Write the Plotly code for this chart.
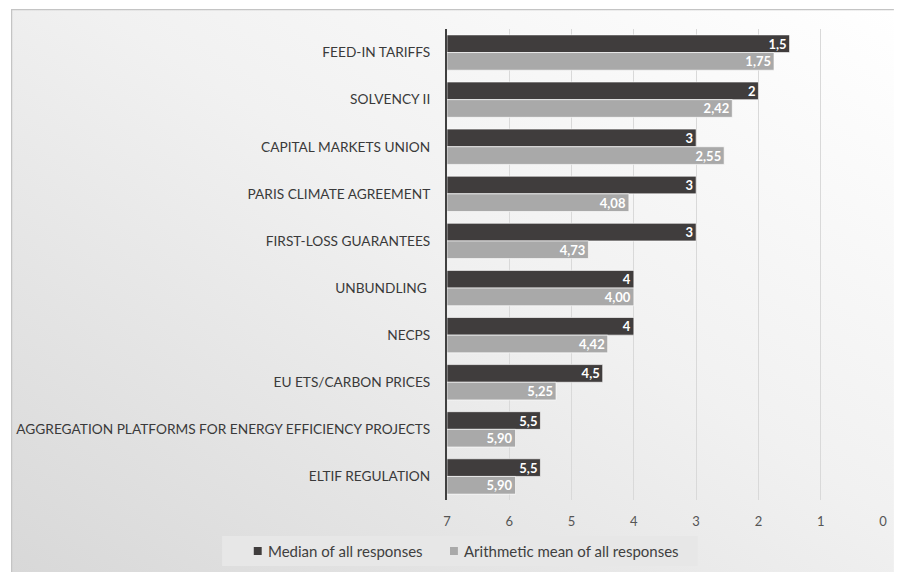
import base64
import plotly.graph_objects as go

# Survey results: ranking of policy instruments (lower = more important)
categories = [
    "FEED-IN TARIFFS",
    "SOLVENCY II",
    "CAPITAL MARKETS UNION",
    "PARIS CLIMATE AGREEMENT",
    "FIRST-LOSS GUARANTEES",
    "UNBUNDLING ",
    "NECPS",
    "EU ETS/CARBON PRICES",
    "AGGREGATION PLATFORMS FOR ENERGY EFFICIENCY PROJECTS",
    "ELTIF REGULATION",
]
median_vals = [1.5, 2, 3, 3, 3, 4, 4, 4.5, 5.5, 5.5]
mean_vals = [1.75, 2.42, 2.55, 4.08, 4.73, 4.00, 4.42, 5.25, 5.90, 5.90]
series_names = ["Median of all responses", "Arithmetic mean of all responses"]
x_ticks = [7, 6, 5, 4, 3, 2, 1, 0]

AXIS_START = 7  # bars grow from the left edge of the reversed scale

W, H = 898, 572
ML, MR, MT, MB = 447, 11, 29, 72
PW, PH = W - ML - MR, H - MT - MB

FONT = "Lato"
DARK = "#403d3d"
LIGHT = "#a9a9a9"


def px_x(px):
    """canvas pixel column -> paper x"""
    return (px - ML) / PW


def px_y(py):
    """canvas pixel row -> paper y"""
    return (H - MB - py) / PH


def fmt_median(v):
    return f"{v:g}".replace(".", ",")


def fmt_mean(v):
    return f"{v:.2f}".replace(".", ",")


fig = go.Figure()
series = [
    (series_names[0], median_vals, DARK, fmt_median),
    (series_names[1], mean_vals, LIGHT, fmt_mean),
]
for name, vals, color, fmt in series:
    fig.add_trace(go.Bar(
        name=name,
        y=categories,
        x=[v - AXIS_START for v in vals],
        base=AXIS_START,
        orientation="h",
        marker=dict(color=color, line=dict(color="rgba(255,255,255,0.8)", width=0.8)),
        text=[fmt(v) for v in vals],
        textposition="inside",
        insidetextanchor="end",
        textangle=0,
        constraintext="none",
        textfont=dict(family=FONT, size=13, color="white", weight="bold"),
        hoverinfo="skip",
        showlegend=False,
    ))

# soft grey gradient backdrop with a thin frame on the top and left
svg = (
    '<svg xmlns="http://www.w3.org/2000/svg" width="891" height="563" '
    'viewBox="0 0 891 563" preserveAspectRatio="none">'
    '<defs><linearGradient id="g" x1="1" y1="0" x2="0" y2="1">'
    '<stop offset="0" stop-color="#ffffff"/>'
    '<stop offset="0.45" stop-color="#f1f1f1"/>'
    '<stop offset="1" stop-color="#d8d8d8"/>'
    '</linearGradient></defs>'
    '<rect x="0" y="0" width="891" height="563" fill="url(#g)"/>'
    '<line x1="0" y1="0.5" x2="891" y2="0.5" stroke="#c4c4c4" stroke-width="1.5"/>'
    '<line x1="0.5" y1="0" x2="0.5" y2="563" stroke="#c4c4c4" stroke-width="1.5"/>'
    '</svg>'
)
src = "data:image/svg+xml;base64," + base64.b64encode(svg.encode()).decode()
bx0, by0 = 7, 9
fig.add_layout_image(
    source=src,
    xref="paper", yref="paper",
    x=px_x(bx0), y=px_y(by0),
    sizex=(W - bx0) / PW, sizey=(H - by0) / PH,
    xanchor="left", yanchor="top",
    sizing="stretch", layer="below",
)

# legend: light panel, small square swatches and labels
fig.add_shape(
    type="rect", xref="paper", yref="paper",
    x0=px_x(220), x1=px_x(700), y0=px_y(566), y1=px_y(536),
    fillcolor="#e7e7e7", line=dict(width=0), layer="below",
)
legend_y = 551
for (name, _, color, _), sx in zip(series, [252, 450]):
    fig.add_shape(
        type="rect", xref="paper", yref="paper",
        x0=px_x(sx), x1=px_x(sx + 8), y0=px_y(legend_y + 4), y1=px_y(legend_y - 4),
        fillcolor=color, line=dict(width=0),
    )
    fig.add_annotation(
        xref="paper", yref="paper",
        x=px_x(sx + 12), y=px_y(legend_y),
        xanchor="left", yanchor="middle",
        text=name, showarrow=False,
        font=dict(family=FONT, size=15, color="#404040"),
    )

fig.update_layout(
    width=W, height=H,
    margin=dict(l=ML, r=MR, t=MT, b=MB, pad=0),
    paper_bgcolor="white",
    plot_bgcolor="rgba(0,0,0,0)",
    barmode="group",
    bargap=0.25,
    bargroupgap=0.0,
    showlegend=False,
    font=dict(family=FONT, size=13, color="#3a3a3a"),
    xaxis=dict(
        range=[7, 0],
        tickvals=x_ticks,
        ticktext=[str(t) for t in x_ticks],
        showgrid=True, gridcolor="#d9d9d9", gridwidth=1,
        zeroline=False, showline=False,
        tickfont=dict(family=FONT, size=13, color="#555555"),
        ticks="", ticklabelstandoff=12,
        fixedrange=True,
    ),
    yaxis=dict(
        autorange="reversed",
        showgrid=False, zeroline=False,
        showline=True, linecolor="#404040", linewidth=2,
        ticks="", ticklabelstandoff=12,
        tickfont=dict(family=FONT, size=13.7, color="#3a3a3a"),
        fixedrange=True,
    ),
)

fig.write_html("out.html")
